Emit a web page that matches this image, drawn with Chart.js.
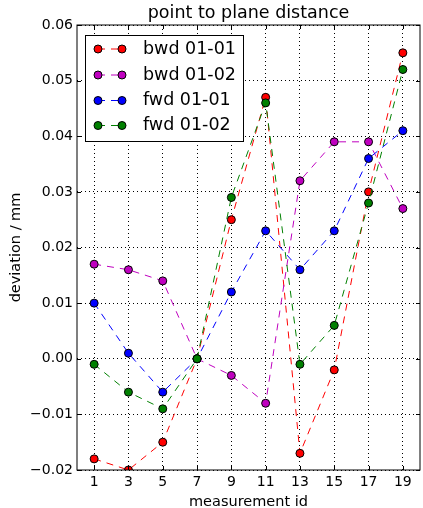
<!DOCTYPE html>
<html><head><meta charset="utf-8">
<script src="https://cdn.jsdelivr.net/npm/chart.js@4"></script>
<style>html,body{margin:0;padding:0;overflow:hidden;background:#fff}#wrap{width:425px;height:508px;position:relative}</style>
</head><body><div id="wrap"><canvas id="c" width="425" height="508"></canvas></div>
<script>
const measurementIds = [1, 3, 5, 7, 9, 11, 13, 15, 17, 19];
const seriesNames = ['bwd 01-01', 'bwd 01-02', 'fwd 01-01', 'fwd 01-02'];
const bwd0101 = [-0.018, -0.020, -0.015, 0.000, 0.025, 0.047, -0.017, -0.002, 0.030, 0.055];
const bwd0102 = [0.017, 0.016, 0.014, 0.000, -0.003, -0.008, 0.032, 0.039, 0.039, 0.027];
const fwd0101 = [0.010, 0.001, -0.006, 0.000, 0.012, 0.023, 0.016, 0.023, 0.036, 0.041];
const fwd0102 = [-0.001, -0.006, -0.009, 0.000, 0.029, 0.046, -0.001, 0.006, 0.028, 0.052];
const xTicks = [1, 3, 5, 7, 9, 11, 13, 15, 17, 19];
const yTicks = [-0.02, -0.01, 0.00, 0.01, 0.02, 0.03, 0.04, 0.05, 0.06];
const yTickLabels = ['\u22120.02', '\u22120.01', '0.00', '0.01', '0.02', '0.03', '0.04', '0.05', '0.06'];
const seriesColors = ['#ff0000', '#bf00bf', '#0000ff', '#008000'];
const allSeries = [bwd0101, bwd0102, fwd0101, fwd0102];

const FONT = "'DejaVu Sans', sans-serif";
const DASH = [7, 6];

const datasets = allSeries.map((vals, i) => ({
  label: seriesNames[i],
  data: measurementIds.map((x, j) => ({x: x, y: vals[j]})),
  borderColor: seriesColors[i],
  backgroundColor: seriesColors[i],
  pointBackgroundColor: seriesColors[i],
  pointBorderColor: '#000',
  pointBorderWidth: 1,
  pointRadius: 4,
  pointHoverRadius: 4,
  borderWidth: 1,
  borderDash: DASH,
  fill: false,
  tension: 0,
  order: allSeries.length - i
}));

const framePlugin = {
  id: 'frame',
  afterDraw(chart) {
    const ctx = chart.ctx, a = chart.chartArea;
    const xs = chart.scales.x, ys = chart.scales.y;
    ctx.save();
    ctx.strokeStyle = '#000';
    ctx.lineWidth = 1;
    ctx.beginPath();
    xTicks.forEach(v => {
      const px = Math.round(xs.getPixelForValue(v)) + 0.5;
      ctx.moveTo(px, a.bottom); ctx.lineTo(px, a.bottom - 4);
      ctx.moveTo(px, a.top); ctx.lineTo(px, a.top + 4);
    });
    yTicks.forEach(v => {
      const py = Math.round(ys.getPixelForValue(v)) + 0.5;
      ctx.moveTo(a.left, py); ctx.lineTo(a.left + 4, py);
      ctx.moveTo(a.right, py); ctx.lineTo(a.right - 4, py);
    });
    ctx.stroke();
    ctx.strokeRect(a.left, a.top, a.right - a.left, a.bottom - a.top);
    // legend
    const bx = 85.5, by = 35.5, bw = 158, bh = 106;
    ctx.fillStyle = '#fff';
    ctx.fillRect(bx, by, bw, bh);
    ctx.strokeRect(bx, by, bw, bh);
    const rows = [49, 75, 100.5, 125.5];
    seriesNames.forEach((name, i) => {
      const y = rows[i];
      ctx.save();
      ctx.strokeStyle = seriesColors[i];
      ctx.setLineDash(DASH);
      ctx.beginPath(); ctx.moveTo(98, y); ctx.lineTo(122, y); ctx.stroke();
      ctx.restore();
      [98, 122].forEach(cx => {
        ctx.beginPath(); ctx.arc(cx, y, 4, 0, Math.PI * 2);
        ctx.fillStyle = seriesColors[i]; ctx.fill();
        ctx.strokeStyle = '#000'; ctx.lineWidth = 1; ctx.stroke();
      });
      ctx.fillStyle = '#000';
      ctx.font = '17.5px ' + FONT;
      ctx.textBaseline = 'middle';
      ctx.textAlign = 'left';
      ctx.fillText(name, 143, y);
    });
    ctx.restore();
  }
};

new Chart(document.getElementById('c'), {
  type: 'line',
  data: {datasets},
  plugins: [framePlugin],
  options: {
    responsive: false,
    animation: false,
    events: [],
    layout: {padding: {left: 0, right: 1, top: 0, bottom: 0}},
    plugins: {
      legend: {display: false},
      tooltip: {enabled: false},
      title: {
        display: true,
        fullSize: false,
        text: 'point to plane distance',
        color: '#000',
        font: {family: FONT, size: 17.5, weight: 'normal', lineHeight: 1},
        padding: {top: 5, bottom: 2.5}
      }
    },
    scales: {
      x: {
        type: 'linear',
        min: 0, max: 20,
        afterBuildTicks: s => { s.ticks = xTicks.map(v => ({value: v})); },
        afterFit: s => { s.height = 38; },
        ticks: {
          color: '#000', padding: 4, maxRotation: 0, autoSkip: false,
          font: {family: FONT, size: 14},
          callback: v => String(v)
        },
        grid: {color: '#000', lineWidth: 1, drawTicks: false},
        border: {display: false, dash: [1, 3]},
        title: {
          display: true, text: 'measurement id', color: '#000',
          font: {family: FONT, size: 14.5, lineHeight: 0.75},
          padding: {top: 0, bottom: 0}
        }
      },
      y: {
        type: 'linear',
        min: -0.02, max: 0.06,
        afterBuildTicks: s => { s.ticks = yTicks.map(v => ({value: v})); },
        afterFit: s => { s.width = 77; },
        ticks: {
          color: '#000', padding: 4,
          font: {family: FONT, size: 14},
          callback: (v, i) => yTickLabels[i]
        },
        grid: {color: '#000', lineWidth: 1, drawTicks: false},
        border: {display: false, dash: [1, 3]},
        title: {
          display: true, text: 'deviation / mm', color: '#000',
          font: {family: FONT, size: 14.5, lineHeight: 1.2},
          padding: {top: 7.5, bottom: 0}
        }
      }
    }
  }
});
</script></body></html>
